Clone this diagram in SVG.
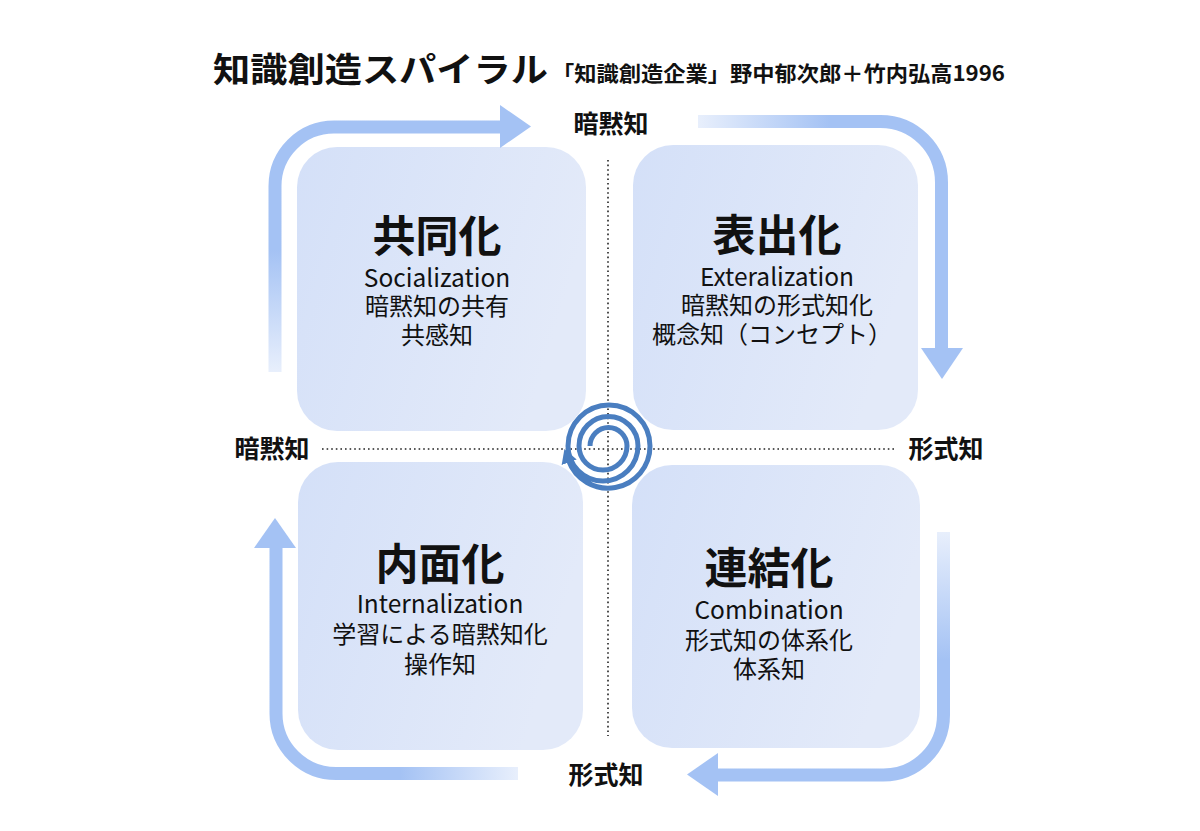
<svg xmlns="http://www.w3.org/2000/svg" width="1200" height="831" viewBox="0 0 1200 831">
<style>
.jp{font-family:"Noto Sans CJK JP","Noto Sans",sans-serif;fill:#111;}
.ttl{font-size:34px;font-weight:bold;}
.sub{font-size:21px;font-weight:bold;}
.axis{font-size:25px;font-weight:bold;text-anchor:middle;}
.head{font-size:43px;font-weight:bold;text-anchor:middle;}
.en{font-size:24.5px;text-anchor:middle;}
.line{font-size:24px;text-anchor:middle;}
.box{fill:url(#boxg);}
.arr{fill:none;stroke-width:13;}
.head-fill{fill:#a4c2f4;}
.dot{stroke:#222;stroke-width:1.6;stroke-dasharray:1.6 3;fill:none;}
.spiral{fill:none;stroke:#4a7ec0;stroke-width:5;}
</style>
<defs>
<linearGradient id="boxg" x1="0" y1="0" x2="1" y2="0.3">
<stop offset="0" stop-color="#d4e0f8"/>
<stop offset="1" stop-color="#e3eaf9"/>
</linearGradient>
<linearGradient id="gTL" gradientUnits="userSpaceOnUse" x1="0" y1="372" x2="0" y2="250">
<stop offset="0" stop-color="#e8effc"/>
<stop offset="1" stop-color="#a4c2f4"/>
</linearGradient>
<linearGradient id="gTR" gradientUnits="userSpaceOnUse" x1="698" y1="0" x2="830" y2="0">
<stop offset="0" stop-color="#e8effc"/>
<stop offset="1" stop-color="#a4c2f4"/>
</linearGradient>
<linearGradient id="gBR" gradientUnits="userSpaceOnUse" x1="0" y1="532" x2="0" y2="660">
<stop offset="0" stop-color="#e8effc"/>
<stop offset="1" stop-color="#a4c2f4"/>
</linearGradient>
<linearGradient id="gBL" gradientUnits="userSpaceOnUse" x1="518" y1="0" x2="400" y2="0">
<stop offset="0" stop-color="#e8effc"/>
<stop offset="1" stop-color="#a4c2f4"/>
</linearGradient>
<marker id="spArrow" markerUnits="userSpaceOnUse" markerWidth="20" markerHeight="20" refX="2" refY="8" orient="auto">
<path d="M0,0 L14,8 L0,16 Z" fill="#4a7ec0"/>
</marker>
</defs>

<g id="title">
<text class="jp ttl" x="213" y="82" textLength="335" lengthAdjust="spacingAndGlyphs">知識創造スパイラル</text>
<text class="jp sub" x="552" y="81" textLength="453" lengthAdjust="spacingAndGlyphs">「知識創造企業」野中郁次郎＋竹内弘高1996</text>
</g>

<g id="axes">
<line class="dot" x1="608" y1="160" x2="608" y2="736"/>
<line class="dot" x1="322" y1="449" x2="894" y2="449"/>
</g>

<g id="node-socialization">
<rect class="box" x="297" y="147" width="289" height="284" rx="40"/>
<text class="jp head" x="437" y="252">共同化</text>
<text class="jp en" x="437" y="287">Socialization</text>
<text class="jp line" x="437" y="315">暗黙知の共有</text>
<text class="jp line" x="437" y="344">共感知</text>
</g>

<g id="node-externalization">
<rect class="box" x="633" y="145" width="285" height="285" rx="40"/>
<text class="jp head" x="777" y="251">表出化</text>
<text class="jp en" x="777" y="286">Exteralization</text>
<text class="jp line" x="777" y="314">暗黙知の形式知化</text>
<text class="jp line" x="772" y="343">概念知（コンセプト）</text>
</g>

<g id="node-internalization">
<rect class="box" x="298" y="462" width="285" height="288" rx="40"/>
<text class="jp head" x="440" y="580">内面化</text>
<text class="jp en" x="440" y="613">Internalization</text>
<text class="jp line" x="440" y="643">学習による暗黙知化</text>
<text class="jp line" x="440" y="673">操作知</text>
</g>

<g id="node-combination">
<rect class="box" x="632" y="465" width="288" height="283" rx="40"/>
<text class="jp head" x="769" y="584">連結化</text>
<text class="jp en" x="769" y="619">Combination</text>
<text class="jp line" x="769" y="649">形式知の体系化</text>
<text class="jp line" x="769" y="678">体系知</text>
</g>

<g id="labels">
<text class="jp axis" x="611" y="133">暗黙知</text>
<text class="jp axis" x="272" y="458">暗黙知</text>
<text class="jp axis" x="946" y="458">形式知</text>
<text class="jp axis" x="606" y="784">形式知</text>
</g>

<g id="connectors">
<path class="arr" stroke="url(#gTL)" d="M275,372 V186 A59,59 0 0 1 334,127 H502"/>
<polygon class="head-fill" points="500,105 531,126.5 500,148"/>
<path class="arr" stroke="url(#gTR)" d="M698,121.5 H880 A61,61 0 0 1 941.5,182.5 V350"/>
<polygon class="head-fill" points="921,348 963,348 942,379"/>
<path class="arr" stroke="url(#gBR)" d="M943.5,532 V715 A60,60 0 0 1 883.5,775 H716"/>
<polygon class="head-fill" points="718,753 687,774.5 718,796"/>
<path class="arr" stroke="url(#gBL)" d="M518,773.5 H336 A60,60 0 0 1 276,713.5 V546"/>
<polygon class="head-fill" points="254,548 275,518 296,548"/>
</g>

<g id="spiral">
<path class="spiral" marker-end="url(#spArrow)" d="M590,446 A18.5,18.5 0 0 1 627,446 A24,24 0 0 1 579,446 A29.5,29.5 0 0 1 638,446 A35,35 0 0 1 568,446 A41,41 0 0 1 650,446 A42,42 0 0 1 568.5,460.4"/>
</g>
</svg>
